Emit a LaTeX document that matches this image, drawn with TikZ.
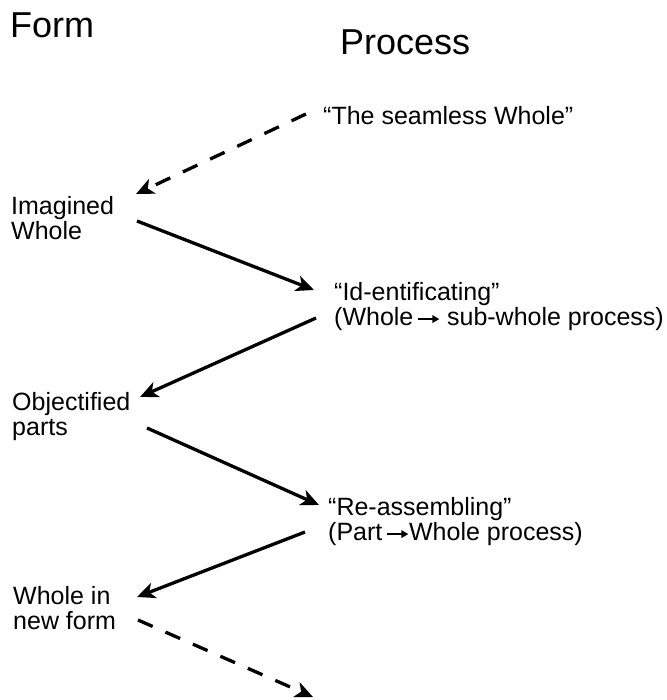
\documentclass[tikz,border=0pt]{standalone}
\usepackage{fontspec}
\setmainfont{Liberation Sans}
\usepackage{tikz}
\usetikzlibrary{arrows.meta, positioning, calc}

% small arrow used inside the process texts
\newcommand{\procarrow}{\tikz[baseline=-0.27em, x=1pt, y=1pt]
  \draw[line width=1.6pt, -{Triangle[length=7pt, width=7.5pt]}] (0,0) -- (21,0);}

\begin{document}
\begin{tikzpicture}[
    x=1pt, y=-1pt,
    heading/.style={anchor=north west, inner sep=0pt, font=\fontsize{36}{40}\selectfont},
    stage/.style={anchor=north west, inner sep=0pt, align=left, font=\fontsize{25}{25.5}\selectfont},
    arrow/.style={-{Stealth[length=18pt, width=16pt, inset=5pt]}, line width=3.3pt},
    dasharrow/.style={arrow, dash pattern=on 16pt off 14pt},
]
    \useasboundingbox (0,0) rectangle (666,700);

    % column headings
    \node[heading] (form) at (10,13) {Form};
    \node[heading] (proc) at (340,30) {Process};

    % left column: forms
    \node[stage] (imag) at (11,196) {Imagined\\Whole};
    \node[stage] (objp) at (12,392) {Objectified\\parts};
    \node[stage] (wnew) at (13,586) {Whole in\\new form};

    % right column: processes
    \node[stage] (seam) at (323,106) {“The seamless Whole”};
    \node[stage] (iden) at (334,282) {“Id-entificating”\\(Whole\,\procarrow\ sub-whole process)};
    \node[stage] (reas) at (328,497) {“Re-assembling”\\(Part\,\procarrow Whole process)};
    \coordinate (next) at (313,697);

    % Arrows
    \draw[dasharrow] ([shift={(-17,8)}]seam.north west) -- ([shift={(125,-2)}]imag.north west);
    \draw[arrow] ([shift={(126,25)}]imag.north west) -- ([shift={(-20,8)}]iden.north west);
    \draw[arrow] ([shift={(-18,36)}]iden.north west) -- ([shift={(128,5)}]objp.north west);
    \draw[arrow] ([shift={(135,36)}]objp.north west) -- ([shift={(-9,8)}]reas.north west);
    \draw[arrow] ([shift={(-23,35)}]reas.north west) -- ([shift={(124,11)}]wnew.north west);
    \draw[dasharrow] ([shift={(125,34)}]wnew.north west) -- (next);
\end{tikzpicture}
\end{document}
